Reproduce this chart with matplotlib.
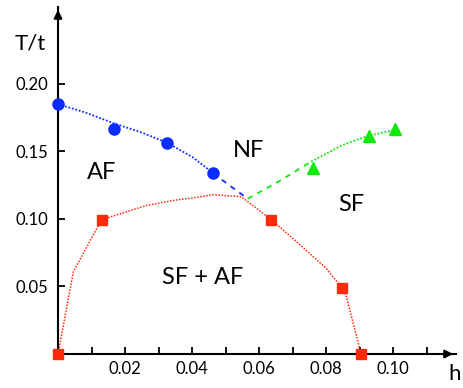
import matplotlib.pyplot as plt

# AF boundary (blue circles) and its line
af_h = [0.0, 0.0166, 0.0325, 0.0463]
af_T = [0.185, 0.167, 0.156, 0.134]
af_line_h = [0.0, 0.008, 0.0165, 0.025, 0.0325, 0.040, 0.0463]
af_line_T = [0.185, 0.179, 0.171, 0.164, 0.1565, 0.146, 0.134]
af_dash_h = [0.0463, 0.0505, 0.0555]
af_dash_T = [0.134, 0.126, 0.117]

# SF boundary (green triangles)
sf_h = [0.076, 0.0929, 0.1006]
sf_T = [0.138, 0.1617, 0.1664]
sf_dash_h = [0.0566, 0.066, 0.0755]
sf_dash_T = [0.115, 0.128, 0.1425]
sf_line_h = [0.0755, 0.0849, 0.0924, 0.1006]
sf_line_T = [0.1425, 0.1548, 0.1615, 0.166]

# SF + AF coexistence (red squares)
co_h = [0.0, 0.013, 0.0636, 0.0846, 0.0904]
co_T = [0.0, 0.0995, 0.0995, 0.049, 0.0]
co_line_h = [0.0, 0.0046, 0.013, 0.0264, 0.035, 0.0428, 0.0462, 0.0547,
             0.0636, 0.070, 0.080, 0.0846, 0.086, 0.0904]
co_line_T = [0.0, 0.061, 0.0995, 0.110, 0.114, 0.1165, 0.118, 0.1165,
             0.0995, 0.0857, 0.0635, 0.049, 0.0425, 0.0]

x_ticks = [0.02, 0.04, 0.06, 0.08, 0.10]
y_ticks = [0.05, 0.10, 0.15, 0.20]

blue = "#0a2cff"
green = "#10e810"
red = "#ff2a0a"

plt.rcParams["font.family"] = ["Lato", "DejaVu Sans"]

fig = plt.figure(figsize=(4.63, 3.88), dpi=100)
ax = fig.add_axes([58 / 463, 34 / 388, 398 / 463, 347 / 388])
ax.set_xlim(0, 0.1187)
ax.set_ylim(0, 0.257)

# lines
dot = (1, 1)
ax.plot(af_line_h, af_line_T, color=blue, lw=1.3, dashes=dot)
ax.plot(af_dash_h, af_dash_T, color=blue, lw=1.3, dashes=(3, 3))
ax.plot(sf_dash_h, sf_dash_T, color=green, lw=1.3, dashes=(3, 3))
ax.plot(sf_line_h, sf_line_T, color=green, lw=1.3, dashes=dot)
ax.plot(co_line_h, co_line_T, color=red, lw=1.1, dashes=dot)

# markers
ax.plot(af_h, af_T, "o", color=blue, ms=8, clip_on=False, zorder=5)
ax.plot(sf_h, sf_T, "^", color=green, ms=8.5, clip_on=False, zorder=5)
ax.plot(co_h, co_T, "s", color=red, ms=7.5, clip_on=False, zorder=5)

# axes styling
for side in ["top", "right"]:
    ax.spines[side].set_visible(False)
for side in ["left", "bottom"]:
    ax.spines[side].set_linewidth(1.5)
ax.set_xticks([0.01 * i for i in range(1, 12)])
ax.set_xticklabels(["" if i % 2 else f"{i / 100:.2f}" for i in range(1, 12)])
ax.set_yticks(y_ticks)
ax.set_yticklabels([f"{v:.2f}" for v in y_ticks])
ax.tick_params(direction="in", length=5, width=1.3, labelsize=12)
ax.tick_params(axis="x", pad=5)
ax.tick_params(axis="y", pad=7)

# arrows at axis ends
ax.annotate("", xy=(0, 1.0), xytext=(0, 0.97), xycoords="axes fraction",
            arrowprops=dict(arrowstyle="-|>", color="black", lw=1.5, mutation_scale=12))
ax.annotate("", xy=(1.0, 0), xytext=(0.97, 0), xycoords="axes fraction",
            arrowprops=dict(arrowstyle="-|>", color="black", lw=1.5, mutation_scale=12))

# axis titles
fig.text(30 / 463, 1 - 43 / 388, "T/t", fontsize=16, ha="center", va="center")
fig.text(455 / 463, 1 - 374 / 388, "h", fontsize=16, ha="center", va="center")

# region labels
ax.text(0.0131, 0.1345, "AF", fontsize=17, ha="center", va="center")
ax.text(0.0567, 0.151, "NF", fontsize=17, ha="center", va="center")
ax.text(0.0875, 0.111, "SF", fontsize=17, ha="center", va="center")
ax.text(0.0432, 0.0565, "SF + AF", fontsize=17, ha="center", va="center")

fig.savefig("out.png", dpi=100)
